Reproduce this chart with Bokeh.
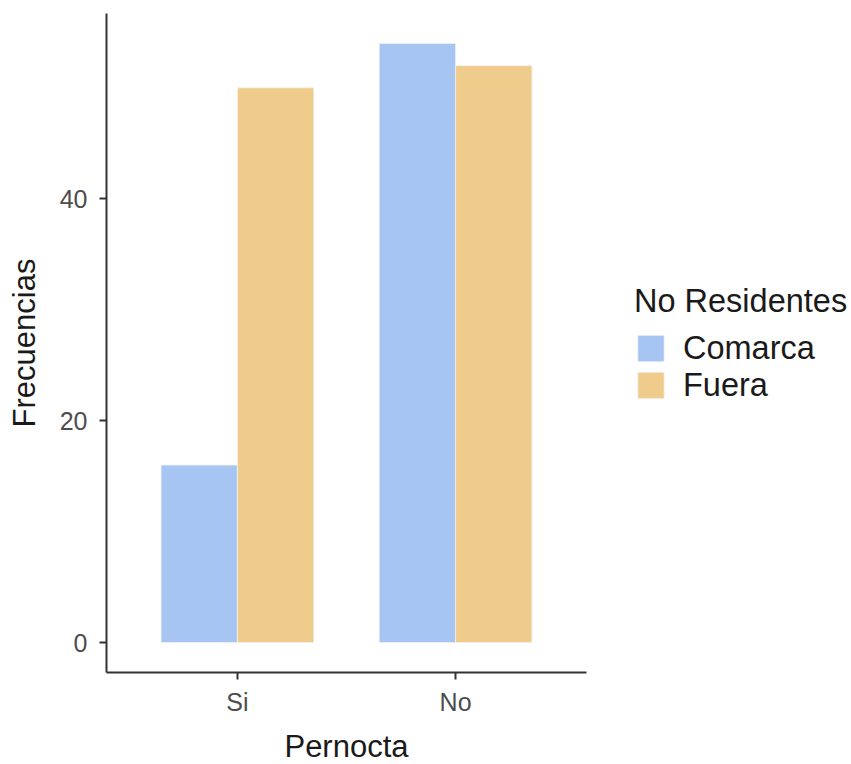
from bokeh.plotting import figure
from bokeh.models import Range1d, FixedTicker, Legend, LegendItem, ColumnDataSource
from bokeh.embed import file_html
from bokeh.resources import INLINE

categories = ["Si", "No"]
groups = ["Comarca", "Fuera"]
comarca = [16, 54]
fuera = [50, 52]
y_ticks = [0, 20, 40]
colors = ["#A6C5F2", "#EFCC8C"]

FONT = "Liberation Sans"
bar_w = 0.35
xpos = [i + 1 for i in range(len(categories))]

p = figure(width=846, height=762, output_backend="svg", toolbar_location=None,
           x_range=Range1d(0.4, len(categories) + 0.6),
           y_range=Range1d(-2.7, 56.7),
           frame_width=480, frame_height=659,
           min_border_left=106, min_border_top=13, min_border_bottom=90, min_border_right=260)
p.outline_line_color = None
p.grid.visible = False
p.background_fill_color = "white"
p.border_fill_color = "white"

renderers = []
for k, (vals, col) in enumerate(zip([comarca, fuera], colors)):
    off = (k - 0.5) * bar_w
    src = ColumnDataSource(dict(x=[x + off for x in xpos], top=vals))
    r = p.vbar(x="x", top="top", bottom=0, width=bar_w, source=src,
               fill_color=col, line_color="#F2F2F2", line_width=0.8)
    renderers.append(r)

for ax in (p.xaxis[0], p.yaxis[0]):
    ax.axis_line_color = "#333333"
    ax.axis_line_width = 2
    ax.major_tick_line_color = "#333333"
    ax.major_tick_line_width = 2
    ax.major_tick_out = 7
    ax.major_tick_in = 0
    ax.minor_tick_line_color = None
    ax.major_label_text_font = FONT
    ax.major_label_text_font_size = "25px"
    ax.major_label_text_color = "#4D4D4D"
    ax.axis_label_text_font = FONT
    ax.axis_label_text_font_size = "31px"
    ax.axis_label_text_font_style = "normal"
    ax.axis_label_text_color = "#1A1A1A"

p.xaxis.ticker = FixedTicker(ticks=xpos)
p.xaxis.major_label_overrides = {x: c for x, c in zip(xpos, categories)}
p.xaxis.axis_label = "Pernocta"
p.xaxis.major_label_standoff = 8
p.xaxis.axis_label_standoff = 10

p.yaxis.ticker = FixedTicker(ticks=y_ticks)
p.yaxis.axis_label = "Frecuencias"
p.yaxis.major_label_standoff = 12
p.yaxis.axis_label_standoff = 15

legend = Legend(items=[LegendItem(label=g, renderers=[r]) for g, r in zip(groups, renderers)],
                title="No Residentes", location="center_left")
legend.title_text_font = FONT
legend.title_text_font_size = "32.5px"
legend.title_text_font_style = "normal"
legend.title_text_color = "#1A1A1A"
legend.title_standoff = 10
legend.label_text_font = FONT
legend.label_text_font_size = "32.5px"
legend.label_text_color = "#1A1A1A"
legend.glyph_width = 33
legend.glyph_height = 33
legend.label_height = 33
legend.label_standoff = 16
legend.spacing = 0
legend.padding = 0
legend.margin = 48
legend.border_line_color = None
legend.background_fill_alpha = 0
p.add_layout(legend, "right")

open("out.html", "w").write(file_html(p, INLINE))
